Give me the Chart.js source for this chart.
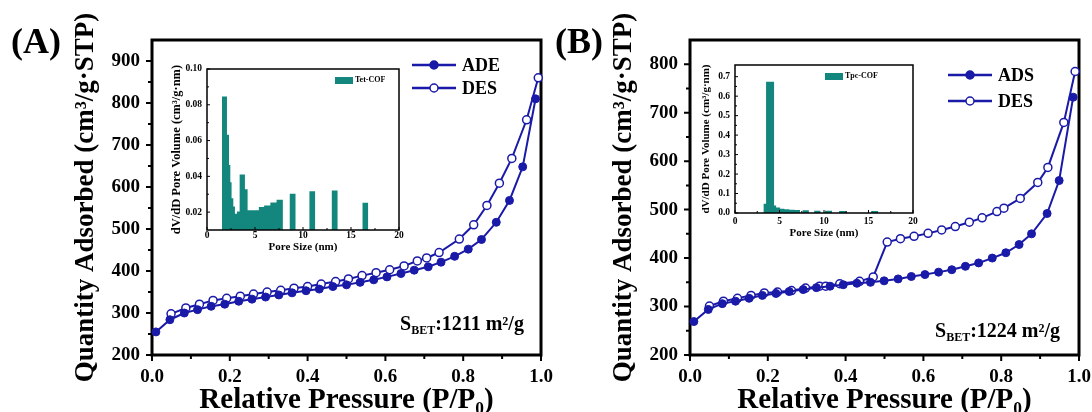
<!DOCTYPE html>
<html>
<head>
<meta charset="utf-8">
<script src="https://cdn.jsdelivr.net/npm/chart.js@4.4.1/dist/chart.umd.min.js"></script>
<style>
    body { margin: 0; background: #fff; }
    #painel { position: relative; width: 1092px; height: 412px; background: #fff; overflow: hidden;
              font-family: 'Liberation Serif', 'Times New Roman', serif; font-weight: bold; color: #000; }
    canvas { position: absolute; }
    .rotulo { position: absolute; font-size: 36px; line-height: 36px; }
    .sbet { position: absolute; font-size: 20px; line-height: 20px; white-space: nowrap; }
    .sbet span { font-size: 12px; position: relative; top: 4px; }
    .legenda { position: absolute; }
    .legenda .linha { display: flex; align-items: center; }
    .legenda .linha span { font-size: 18px; line-height: 18px; margin-left: 6px; }
    .legInset { position: absolute; display: flex; align-items: center; font-size: 8px; line-height: 8px; white-space: nowrap; }
    .legInset i { display: inline-block; width: 18px; height: 7px; margin-right: 2px; }
</style>
</head>
<body>
<div id="painel">
    <canvas id="isoA" width="570" height="412" style="left:0;top:0"></canvas>
    <canvas id="isoB" width="546" height="412" style="left:546px;top:0"></canvas>
    <canvas id="poroA" width="260" height="200" style="left:150px;top:55px"></canvas>
    <canvas id="poroB" width="240" height="200" style="left:690px;top:50px"></canvas>

    <div class="rotulo" style="left:11px;top:23px">(A)</div>
    <div class="rotulo" style="left:555px;top:23px">(B)</div>

    <div class="sbet" style="left:400px;top:313px">S<span>BET</span>:1211 m²/g</div>
    <div class="sbet" style="left:935px;top:320px">S<span>BET</span>:1224 m²/g</div>

    <div class="legenda" id="legA" style="left:412px;top:54px"></div>
    <div class="legenda" id="legB" style="left:948px;top:62px"></div>

    <div class="legInset" id="legPoroA" style="left:335px;top:76px"></div>
    <div class="legInset" id="legPoroB" style="left:825px;top:72px"></div>
</div>

<script>
// DADOS - isoterma (A)
const adeA_x = [0.010, 0.046, 0.083, 0.117, 0.152, 0.187, 0.223, 0.257, 0.292, 0.326, 0.360, 0.396, 0.430, 0.465, 0.500,
    0.535, 0.570, 0.604, 0.640, 0.674, 0.710, 0.743, 0.778, 0.813, 0.847, 0.885, 0.919, 0.953, 0.986];
const adeA_y = [255, 284, 300, 308, 316, 321, 328, 333, 338, 343, 348, 353, 357, 363, 367,
    373, 379, 386, 394, 402, 410, 421, 435, 452, 475, 516, 568, 648, 810];
const desA_x = [0.049, 0.087, 0.122, 0.157, 0.192, 0.227, 0.261, 0.296, 0.331, 0.365, 0.400, 0.435, 0.472, 0.505,
    0.540, 0.576, 0.611, 0.648, 0.682, 0.706, 0.738, 0.790, 0.827, 0.861, 0.893, 0.925, 0.963, 0.993];
const desA_y = [298, 312, 321, 330, 335, 340, 345, 350, 354, 359, 363, 369, 375, 381,
    389, 396, 403, 412, 424, 431, 444, 476, 510, 556, 609, 668, 760, 860];

// DADOS - isoterma (B)
const adsB_x = [0.010, 0.047, 0.083, 0.117, 0.152, 0.186, 0.221, 0.255, 0.291, 0.325, 0.360, 0.394, 0.429, 0.464, 0.499,
    0.535, 0.569, 0.604, 0.639, 0.673, 0.708, 0.742, 0.777, 0.812, 0.846, 0.878, 0.918, 0.949, 0.985];
const adsB_y = [269, 294, 306, 311, 317, 323, 327, 331, 335, 339, 342, 345, 348, 350, 353,
    357, 362, 366, 371, 376, 383, 390, 400, 411, 428, 450, 492, 560, 732];
const desB_x = [0.050, 0.086, 0.122, 0.157, 0.191, 0.225, 0.261, 0.297, 0.333, 0.349, 0.385, 0.436, 0.471, 0.507,
    0.541, 0.576, 0.612, 0.647, 0.682, 0.718, 0.751, 0.789, 0.807, 0.849, 0.894, 0.920, 0.961, 0.990];
const desB_y = [301, 311, 317, 323, 328, 330, 333, 338, 342, 342, 347, 352, 361, 433,
    440, 445, 451, 458, 465, 474, 483, 496, 503, 523, 556, 587, 680, 785];

// DADOS - distribuicao de poros (insets): inicio, fim e valor de cada faixa
const poroA_ini = [1.56, 2.08, 2.29, 2.43, 2.56, 2.74, 2.91, 3.12, 3.40, 3.95, 4.23, 4.58, 4.92, 5.40, 5.95, 6.60, 7.25, 8.62, 10.67, 13.00, 16.20];
const poroA_fim = [2.08, 2.29, 2.43, 2.56, 2.74, 2.91, 3.12, 3.40, 3.95, 4.23, 4.58, 4.92, 5.40, 5.95, 6.60, 7.25, 7.90, 9.22, 11.26, 13.60, 16.80];
const poroA_val = [0.0846, 0.0633, 0.0464, 0.0367, 0.0278, 0.0232, 0.0191, 0.0204, 0.0410, 0.0328, 0.0210, 0.0210, 0.0210, 0.0228, 0.0237, 0.0254, 0.0269, 0.0302, 0.0317, 0.0321, 0.0252];
const poroB_ini = [3.19, 3.49, 4.39, 4.62, 5.07, 5.55, 6.10, 6.70, 7.60, 8.90, 10.10, 11.70, 15.30];
const poroB_fim = [3.49, 4.39, 4.62, 5.07, 5.55, 6.10, 6.70, 7.30, 8.30, 9.60, 10.90, 12.50, 16.10];
const poroB_val = [0.048, 0.674, 0.038, 0.028, 0.022, 0.019, 0.017, 0.015, 0.014, 0.012, 0.011, 0.010, 0.010];

// EIXOS
const ticksX = [0, 0.2, 0.4, 0.6, 0.8, 1.0];
const ticksYA = [200, 300, 400, 500, 600, 700, 800, 900];
const ticksYB = [200, 300, 400, 500, 600, 700, 800];
const ticksPoroX = [0, 5, 10, 15, 20];
const ticksPoroYA = [0.02, 0.04, 0.06, 0.08, 0.10];
const ticksPoroYB = [0, 0.1, 0.2, 0.3, 0.4, 0.5, 0.6, 0.7];

const serieA = ['ADE', 'DES'];
const serieB = ['ADS', 'DES'];
const nomePoroA = 'Tet-COF';
const nomePoroB = 'Tpc-COF';

const azul = '#1a1aa8';
const verde = '#13877e';
const fonte = "'Liberation Serif', 'Times New Roman', serif";

// moldura + marcas dos eixos (maiores e menores)
const moldura = {
    id: 'moldura',
    beforeDatasetsDraw(chart, args, o) { if (!o.porCima) desenharMoldura(chart, o); },
    afterDatasetsDraw(chart, args, o) { if (o.porCima) desenharMoldura(chart, o); }
};

function desenharMoldura(chart, o) {
    const { ctx, chartArea: a } = chart;
    const sx = chart.scales.x, sy = chart.scales.y;
    const dir = o.paraDentro ? -1 : 1;
    const vx = sx.ticks.map(t => t.value);
    const vy = sy.ticks.map(t => t.value);
    const meio = v => v.slice(1).map((val, i) => (val + v[i]) / 2);
    ctx.save();
    ctx.strokeStyle = '#000';
    ctx.lineWidth = o.marca;
    ctx.beginPath();
    vx.forEach(v => { const p = sx.getPixelForValue(v); ctx.moveTo(p, a.bottom); ctx.lineTo(p, a.bottom + dir * o.maior); });
    meio(vx).forEach(v => { const p = sx.getPixelForValue(v); ctx.moveTo(p, a.bottom); ctx.lineTo(p, a.bottom + dir * o.menor); });
    vy.forEach(v => { const p = sy.getPixelForValue(v); ctx.moveTo(a.left, p); ctx.lineTo(a.left - dir * o.maior, p); });
    meio(vy).forEach(v => { const p = sy.getPixelForValue(v); ctx.moveTo(a.left, p); ctx.lineTo(a.left - dir * o.menor, p); });
    ctx.stroke();
    ctx.lineWidth = o.largura;
    ctx.strokeRect(a.left, a.top, a.right - a.left, a.bottom - a.top);
    ctx.restore();
}

// FUNCOES
function pontos(xs, ys) {
    return xs.map((x, i) => ({ x: x, y: ys[i] }));
}

function histograma(ini, fim, val) {
    const pts = [];
    ini.forEach((e, i) => {
        pts.push({ x: e, y: val[i] });
        if (i === ini.length - 1 || ini[i + 1] !== fim[i]) pts.push({ x: fim[i], y: 0 });
    });
    return pts;
}

function fixarTicks(lista) {
    return s => { s.ticks = lista.map(v => ({ value: v })); };
}

const semGrade = { display: false, drawTicks: false, tickLength: 0 };

function montarIsoterma(id, nomes, ads, des, yMax, ticksY, caixa) {
    const ctx = document.getElementById(id).getContext('2d');
    return new Chart(ctx, {
        type: 'line',
        data: {
            datasets: [{
                label: nomes[0],
                data: ads,
                borderColor: azul,
                backgroundColor: azul,
                pointBackgroundColor: azul,
                pointBorderColor: azul,
                pointBorderWidth: 1,
                pointRadius: 4,
                borderWidth: 2,
                tension: 0,
                clip: false
            }, {
                label: nomes[1],
                data: des,
                borderColor: azul,
                backgroundColor: '#fff',
                pointBackgroundColor: '#fff',
                pointBorderColor: azul,
                pointBorderWidth: 1.5,
                pointRadius: 4,
                borderWidth: 2,
                tension: 0,
                clip: false
            }]
        },
        options: {
            responsive: false,
            animation: false,
            layout: { padding: caixa.padding },
            plugins: {
                legend: { display: false },
                tooltip: { enabled: false },
                moldura: { largura: 3, marca: 2, maior: 6, menor: 4, paraDentro: false, porCima: false }
            },
            scales: {
                x: {
                    type: 'linear', min: 0, max: 1,
                    afterBuildTicks: fixarTicks(ticksX),
                    afterFit: s => { s.height = caixa.alturaX; s.paddingLeft = 0; s.paddingRight = 0; },
                    grid: semGrade,
                    border: { display: false },
                    ticks: { color: '#000', padding: 11, autoSkip: false, maxRotation: 0,
                        font: { family: fonte, size: 19, weight: 'bold' },
                        callback: v => v.toFixed(1) },
                    title: { display: true, text: 'Relative Pressure (P/P₀)', color: '#000',
                        padding: { top: 0, bottom: 0 },
                        font: { family: fonte, size: 29, weight: 'bold', lineHeight: 0.8 } }
                },
                y: {
                    type: 'linear', min: 200, max: yMax,
                    afterBuildTicks: fixarTicks(ticksY),
                    afterFit: s => { s.width = caixa.larguraY; s.paddingTop = 0; s.paddingBottom = 0; },
                    grid: semGrade,
                    border: { display: false },
                    ticks: { color: '#000', padding: 12, autoSkip: false,
                        font: { family: fonte, size: 19, weight: 'bold' } },
                    title: { display: true, text: 'Quantity Adsorbed (cm³/g·STP)', color: '#000',
                        padding: { top: 10, bottom: 0 },
                        font: { family: fonte, size: 27, weight: 'bold', lineHeight: 1.2 } }
                }
            }
        }
    });
}

function montarPoros(id, nome, dados, yMin, yMax, ticksY, casas, caixa) {
    const ctx = document.getElementById(id).getContext('2d');
    return new Chart(ctx, {
        type: 'line',
        data: {
            datasets: [{
                label: nome,
                data: dados,
                stepped: 'before',
                fill: 'origin',
                backgroundColor: verde,
                borderColor: verde,
                borderWidth: 0,
                pointRadius: 0
            }]
        },
        options: {
            responsive: false,
            animation: false,
            layout: { padding: caixa.padding },
            plugins: {
                legend: { display: false },
                tooltip: { enabled: false },
                filler: { propagate: false },
                moldura: { largura: 1.5, marca: 1, maior: 3, menor: 2, paraDentro: true, porCima: true }
            },
            scales: {
                x: {
                    type: 'linear', min: 0, max: 20,
                    afterBuildTicks: fixarTicks(ticksPoroX),
                    afterFit: s => { s.height = caixa.alturaX; s.paddingLeft = 0; s.paddingRight = 0; },
                    grid: semGrade,
                    border: { display: false },
                    ticks: { color: '#000', padding: caixa.padX, autoSkip: false, maxRotation: 0,
                        font: { family: fonte, size: 9.5, weight: 'bold' } },
                    title: { display: true, text: 'Pore Size (nm)', color: '#000',
                        padding: { top: 0, bottom: caixa.padTituloX },
                        font: { family: fonte, size: 11, weight: 'bold', lineHeight: 1 } }
                },
                y: {
                    type: 'linear', min: yMin, max: yMax,
                    afterBuildTicks: fixarTicks(ticksY),
                    afterFit: s => { s.width = caixa.larguraY; s.paddingTop = 0; s.paddingBottom = 0; },
                    grid: semGrade,
                    border: { display: false },
                    ticks: { color: '#000', padding: 5, autoSkip: false,
                        font: { family: fonte, size: 9.5, weight: 'bold' },
                        callback: v => v.toFixed(casas) },
                    title: { display: true, text: 'dV/dD Pore Volume (cm³/g·nm)', color: '#000',
                        padding: { top: caixa.padTituloY, bottom: 0 },
                        font: { family: fonte, size: caixa.fonteTituloY, weight: 'bold', lineHeight: 1.2 } }
                }
            }
        }
    });
}

function montarLegenda(chart, el, altura) {
    chart.data.datasets.forEach(ds => {
        const linha = document.createElement('div');
        linha.className = 'linha';
        linha.style.height = altura + 'px';
        linha.innerHTML = '<svg width="44" height="12"><line x1="0" y1="6" x2="44" y2="6" stroke="' + ds.borderColor +
            '" stroke-width="2.5"/><circle cx="22" cy="6" r="4" fill="' + ds.pointBackgroundColor +
            '" stroke="' + ds.pointBorderColor + '" stroke-width="1.5"/></svg><span>' + ds.label + '</span>';
        el.appendChild(linha);
    });
}

function montarLegendaPoros(chart, el) {
    const ds = chart.data.datasets[0];
    el.innerHTML = '<i style="background:' + ds.backgroundColor + '"></i>' + ds.label;
}

// INICIALIZACOES
Chart.register(moldura);

const isoA = montarIsoterma('isoA', serieA, pontos(adeA_x, adeA_y), pontos(desA_x, desA_y), 950, ticksYA,
    { padding: { left: 60, right: 29, top: 40, bottom: 0 }, larguraY: 92, alturaX: 57 });
const isoB = montarIsoterma('isoB', serieB, pontos(adsB_x, adsB_y), pontos(desB_x, desB_y), 850, ticksYB,
    { padding: { left: 52, right: 13, top: 40, bottom: 0 }, larguraY: 92, alturaX: 57 });

const poroA = montarPoros('poroA', nomePoroA, histograma(poroA_ini, poroA_fim, poroA_val), 0.01, 0.10, ticksPoroYA, 2,
    { padding: { left: 15, right: 11, top: 14, bottom: 0 }, larguraY: 42, alturaX: 25, padX: 0,
      padTituloX: 2.5, padTituloY: 4.5, fonteTituloY: 12.5 });
const poroB = montarPoros('poroB', nomePoroB, histograma(poroB_ini, poroB_fim, poroB_val), 0, 0.76, ticksPoroYB, 1,
    { padding: { left: 5, right: 17, top: 15, bottom: 0 }, larguraY: 40, alturaX: 37, padX: 3,
      padTituloX: 11.5, padTituloY: 5, fonteTituloY: 11 });

montarLegenda(isoA, document.getElementById('legA'), 22.6);
montarLegenda(isoB, document.getElementById('legB'), 25.7);
montarLegendaPoros(poroA, document.getElementById('legPoroA'));
montarLegendaPoros(poroB, document.getElementById('legPoroB'));
</script>
</body>
</html>
